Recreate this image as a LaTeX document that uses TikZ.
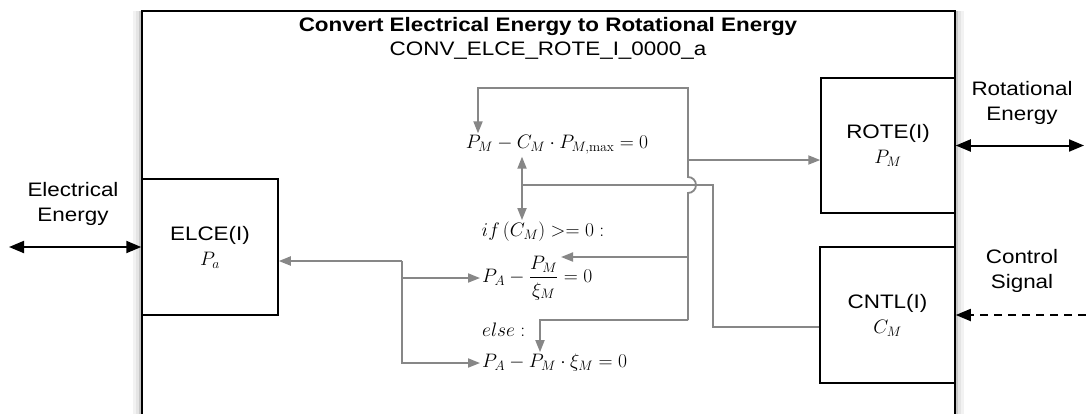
\documentclass[tikz,border=0pt]{standalone}
\usepackage{fix-cm}
\usepackage{amsmath}
\usepackage[no-math]{fontspec}
\setmainfont{Liberation Sans}[FakeStretch=1.15]
\usetikzlibrary{arrows.meta, positioning, calc}

\begin{document}
\begin{tikzpicture}[
  x=1pt, y=-1pt,
  every node/.style={font=\fontsize{19.5}{25}\selectfont},
  blk/.style={rectangle, draw, line width=1.5pt, fill=white, align=center, inner sep=0pt},
  eq/.style={inner sep=2pt},
  ext/.style={{Triangle[length=15pt,width=12pt]}-{Triangle[length=15pt,width=12pt]}, line width=2pt},
  gline/.style={draw=black!47, line width=1.8pt},
  garrow/.style={gline, -{Triangle[length=12pt,width=9pt]}},
]
  \useasboundingbox (0,0) rectangle (1086,413);

  \foreach \d/\c in {9/5, 6/10, 3/22}
    \fill[black!\c] (142-\d,11) rectangle (955+\d,430);
  \fill[white] (142,11) rectangle (955,430);
  \draw[line width=2pt] (142,430) -- (142,11) -- (955,11) -- (955,430);

  \node[font=\fontsize{19.5}{25}\selectfont\bfseries] (title) at (548,26) {Convert Electrical Energy to Rotational Energy};
  \node (code) [below=0pt of title] {CONV\_ELCE\_ROTE\_I\_0000\_a};

  \node[blk, minimum width=136pt, minimum height=136pt] (elce) at (210,247) {ELCE(I)\\$P_a$};
  \node[blk, minimum width=134pt, minimum height=135pt] (rote) at (888,145.5) {ROTE(I)\\$P_M$};
  \node[blk, minimum width=135pt, minimum height=136pt] (cntl) at (887.5,315) {CNTL(I)\\$C_M$};

  \node[align=center] (elecLbl) at (73,204) {Electrical\\Energy};
  \node[align=center] (rotLbl) at (1022,103) {Rotational\\Energy};
  \node[align=center] (ctlLbl) at (1022,271) {Control\\Signal};

  \coordinate (elecEnd) at (9,247);
  \coordinate (rotEnd) at (1084,145.5);
  \coordinate (ctlEnd) at (1086,315);
  \draw[ext] (elecEnd) -- (elce.west);
  \draw[ext] (rote.east) -- (rotEnd);
  \draw[-{Triangle[length=15pt,width=12pt]}, line width=1.8pt, dash pattern=on 8pt off 6pt] (ctlEnd) -- (cntl.east);

  \node[eq] (eqMax) at (557,145) {$P_M - C_M \cdot P_{M,\max} = 0$};
  \node[eq] (eqIf) at (543,232) {$if\left(C_M\right) >= 0:$};
  \node[eq, anchor=west] (eqDiv) at (480,278) {$P_A - \dfrac{P_M}{\xi_M} = 0$};
  \node[eq, anchor=west] (eqElse) at (480,330) {$else:$};
  \node[eq, anchor=west] (eqMul) at (480,363) {$P_A - P_M \cdot \xi_M = 0$};

  \coordinate (jE) at (402,261);
  \draw[garrow] (jE) -- (elce.east |- jE);
  \draw[garrow] (jE) |- (eqDiv.west);
  \draw[garrow] (jE) |- (eqMul.west);

  \coordinate (jR) at (688,160);
  \coordinate (jTop) at (688,88);
  \coordinate (jHop) at (688,177);
  \coordinate (jDiv) at (688,257);
  \coordinate (jBot) at (688,320);
  \draw[garrow] (jR) -- (rote.west |- jR);
  \draw[garrow] (jR) -- (jTop) -| ([xshift=-79pt]eqMax.north);
  \draw[gline] (jR) -- (jHop) arc[start angle=90, end angle=-90, radius=8pt] -- (jBot);
  \draw[garrow] (jDiv) -- ([xshift=81pt,yshift=21pt]eqDiv.west);
  \draw[garrow] (jBot) -| ([xshift=60pt]eqMul.north west);

  \coordinate (jC) at (522,185);
  \coordinate (cTurn) at (713,185);
  \draw[gline, line width=1.5pt] ([yshift=-12pt]cntl.west) -| (cTurn) -- (jC);
  \draw[garrow] (jC) -- (eqMax.south -| jC);
  \draw[garrow] (jC) -- (eqIf.north -| jC);
\end{tikzpicture}
\end{document}
